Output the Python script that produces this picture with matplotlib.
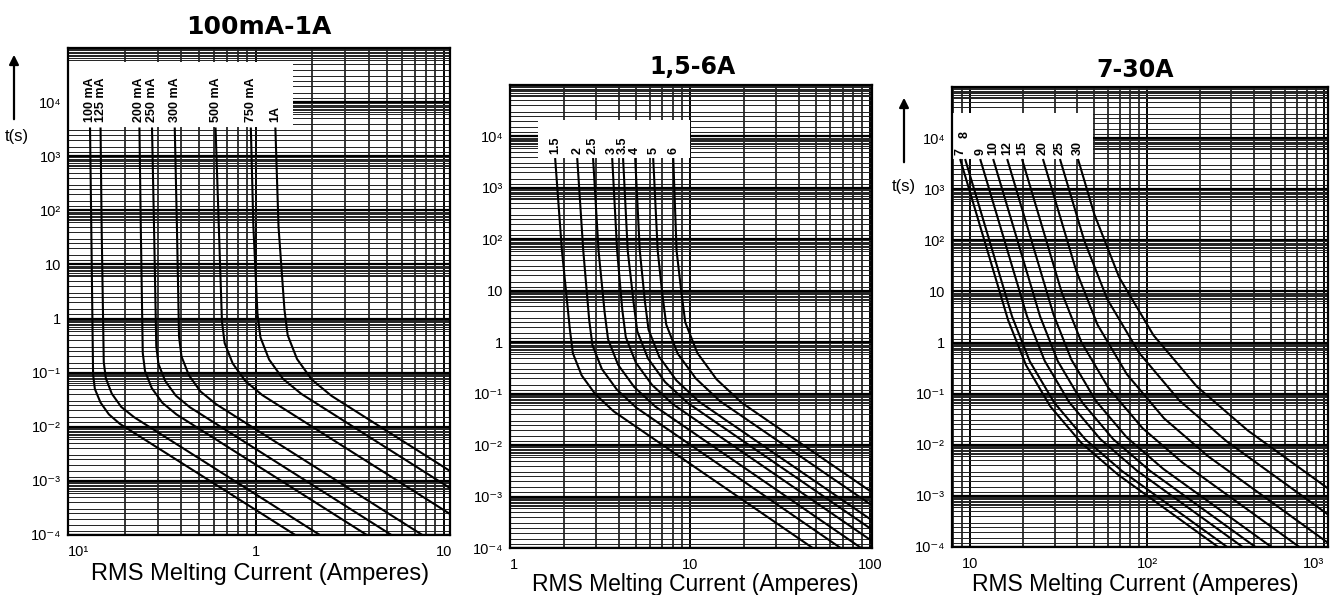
import matplotlib
matplotlib.use('Agg')
import matplotlib.pyplot as plt
from matplotlib.ticker import FixedLocator, FixedFormatter, LogLocator, NullFormatter
from matplotlib.patches import Rectangle

plt.rcParams['font.family'] = ['Liberation Sans', 'DejaVu Sans']

# ---------------- text / ticks ----------------
TITLES = ['100mA-1A', '1,5-6A', '7-30A']
XLABEL = 'RMS Melting Current (Amperes)'
YLABEL = 't(s)'

Y_TICKS = [1e-4, 1e-3, 1e-2, 1e-1, 1, 10, 1e2, 1e3, 1e4]
Y_TICKLABELS = ['10⁻⁴', '10⁻³', '10⁻²', '10⁻¹', '1', '10', '10²', '10³', '10⁴']

P1_XTICKS = [0.1, 1, 10]
P1_XTICKLABELS = ['10¹', '1', '10']
P2_XTICKS = [1, 10, 100]
P2_XTICKLABELS = ['1', '10', '100']
P3_XTICKS = [10, 100, 1000]
P3_XTICKLABELS = ['10', '10²', '10³']

# ---------------- panel 1 : 100mA - 1A ----------------
P1_LABELS = ['100 mA', '125 mA', '200 mA', '250 mA', '300 mA', '500 mA', '750 mA', '1A']
I_100mA = [0.131, 0.133, 0.136, 0.139, 0.149, 0.165, 0.189, 4.62]
T_100mA = [3400, 50, 0.092, 0.050, 0.028, 0.017, 0.0113, 1e-5]
I_125mA = [0.149, 0.151, 0.155, 0.159, 0.171, 0.192, 0.225, 6.24]
T_125mA = [3400, 50, 0.157, 0.079, 0.041, 0.0233, 0.015, 1e-5]
I_200mA = [0.240, 0.244, 0.250, 0.257, 0.279, 0.318, 0.378, 11.1]
T_200mA = [3400, 50, 0.231, 0.107, 0.052, 0.0277, 0.0169, 1e-5]
I_250mA = [0.280, 0.287, 0.295, 0.303, 0.329, 0.375, 0.445, 15.0]
T_250mA = [3400, 50, 0.313, 0.145, 0.0705, 0.0376, 0.023, 1e-5]
I_300mA = [0.37, 0.38, 0.39, 0.402, 0.44, 0.507, 0.614, 21.9]
T_300mA = [3400, 50, 0.463, 0.199, 0.0897, 0.045, 0.0262, 1e-5]
I_500mA = [0.61, 0.635, 0.66, 0.682, 0.753, 0.88, 1.082, 46.2]
T_500mA = [3400, 50, 0.887, 0.352, 0.148, 0.0697, 0.0385, 1e-5]
I_750mA = [0.94, 0.97, 1.02, 1.058, 1.176, 1.392, 1.743, 76.2]
T_750mA = [3400, 50, 1.216, 0.448, 0.175, 0.0773, 0.0407, 1e-5]
I_1A = [1.27, 1.32, 1.42, 1.477, 1.656, 1.985, 2.529, 106]
T_1A = [3400, 50, 1.445, 0.493, 0.179, 0.0743, 0.0372, 1e-5]

# ---------------- panel 2 : 1,5 - 6A ----------------
P2_LABELS = ['1.5', '2', '2.5', '3', '3.5', '4', '5', '6']
I_1A5 = [1.78, 1.94, 2.15, 2.233, 2.497, 2.982, 3.771, 124.5]
T_1A5 = [3800, 62, 1.74, 0.611, 0.227, 0.0965, 0.045, 1e-5]
I_2A = [2.36, 2.55, 2.75, 2.866, 3.231, 3.913, 5.038, 177.8]
T_2A = [3800, 60, 2.72, 0.881, 0.303, 0.1206, 0.053, 1e-5]
I_2A5 = [2.89, 3.1, 3.35, 3.501, 3.981, 4.888, 6.409, 231]
T_2A5 = [3800, 60, 3.81, 1.137, 0.3626, 0.1349, 0.056, 1e-5]
I_3A = [3.69, 3.93, 4.2, 4.39, 4.992, 6.128, 8.035, 302]
T_3A = [3800, 60, 4.21, 1.256, 0.401, 0.149, 0.062, 1e-5]
I_3A5 = [4.24, 4.5, 4.85, 5.084, 5.831, 7.257, 9.69, 373]
T_3A5 = [3800, 60, 5.93, 1.632, 0.4824, 0.168, 0.066, 1e-5]
I_4A = [4.95, 5.25, 5.6, 5.87, 6.733, 8.379, 11.19, 444.5]
T_4A = [3800, 60, 6.37, 1.755, 0.519, 0.1807, 0.07, 1e-5]
I_5A = [6.23, 6.6, 7.0, 7.36, 8.513, 10.74, 14.6, 586.7]
T_5A = [3800, 60, 8.69, 2.207, 0.6046, 0.1972, 0.072, 1e-5]
I_6A = [8.05, 8.4, 8.9, 9.384, 10.95, 14.01, 19.38, 746.8]
T_6A = [3800, 60, 10.4, 2.44, 0.62, 0.1894, 0.066, 1e-5]

# ---------------- panel 3 : 7 - 30A ----------------
P3_LABELS = ['7', '8', '9', '10', '12', '15', '20', '25', '30']
I_7A = [8.78, 16.4, 20.7, 28.4, 42.6, 68.4, 634]
T_7A = [3900, 2.74, 0.362, 0.0563, 0.01078, 0.002616, 1e-5]
I_8A = [9.37, 17.26, 21.74, 29.9, 44.8, 71.9, 713]
T_8A = [3900, 3.24, 0.4283, 0.0666, 0.01276, 0.003096, 1e-5]
I_9A = [11.4, 20.96, 26.42, 36.34, 54.4, 87.4, 872]
T_9A = [3900, 3.29, 0.4348, 0.0677, 0.01295, 0.003144, 1e-5]
I_10A = [13.5, 24.84, 31.3, 43.05, 64.4, 103.5, 1030]
T_10A = [3900, 3.27, 0.432, 0.0672, 0.01287, 0.003124, 1e-5]
I_12A = [16.2, 29.6, 37.3, 51.3, 76.8, 123.4, 1268]
T_12A = [3900, 3.54, 0.468, 0.0729, 0.01395, 0.003384, 1e-5]
I_15A = [19.65, 33.0, 42.6, 60.4, 94.2, 158.8, 1823]
T_15A = [3900, 9.38, 1.012, 0.1307, 0.0212, 0.004467, 1e-5]
I_20A = [25.8, 39.8, 52.5, 76.9, 124.8, 220.5, 2853]
T_20A = [3900, 25.3, 2.232, 0.2394, 0.0329, 0.006021, 1e-5]
I_25A = [32.2, 44.2, 59.6, 90.2, 152.4, 282.4, 4755]
T_25A = [3900, 98.1, 7.06, 0.6287, 0.0733, 0.01163, 1e-5]
I_30A = [40.7, 50.4, 69.6, 108.7, 191.3, 371.6, 7608]
T_30A = [3900, 320.5, 18.85, 1.393, 0.1377, 0.01896, 1e-5]

P1_CURVES = [(I_100mA, T_100mA), (I_125mA, T_125mA), (I_200mA, T_200mA), (I_250mA, T_250mA),
             (I_300mA, T_300mA), (I_500mA, T_500mA), (I_750mA, T_750mA), (I_1A, T_1A)]
P2_CURVES = [(I_1A5, T_1A5), (I_2A, T_2A), (I_2A5, T_2A5), (I_3A, T_3A),
             (I_3A5, T_3A5), (I_4A, T_4A), (I_5A, T_5A), (I_6A, T_6A)]
P3_CURVES = [(I_7A, T_7A), (I_8A, T_8A), (I_9A, T_9A), (I_10A, T_10A), (I_12A, T_12A),
             (I_15A, T_15A), (I_20A, T_20A), (I_25A, T_25A), (I_30A, T_30A)]

# ---------------- layout (pixels) ----------------
W, H = 1331, 595
fig = plt.figure(figsize=(W / 100, H / 100), dpi=100)
fig.patch.set_facecolor('white')


def add_axes_px(left, right, top, bottom):
    return fig.add_axes([left / W, 1 - bottom / H, (right - left) / W, (bottom - top) / H])


def graph_paper(ax, xlim, xticks, xticklabels):
    ax.set_xscale('log')
    ax.set_yscale('log')
    ax.set_xlim(*xlim)
    ax.set_ylim(1e-4, 1e5)
    ax.xaxis.set_major_locator(FixedLocator(xticks))
    ax.xaxis.set_major_formatter(FixedFormatter(xticklabels))
    ax.yaxis.set_major_locator(FixedLocator(Y_TICKS))
    ax.yaxis.set_major_formatter(FixedFormatter(Y_TICKLABELS))
    ax.xaxis.set_minor_locator(LogLocator(base=10, subs=[2, 3, 4, 5, 6, 7, 8, 9], numticks=200))
    ax.yaxis.set_minor_locator(LogLocator(base=10, subs=[1.2, 1.5, 2, 2.5, 3, 4, 5, 6, 6.5, 7, 7.5,
                                                          8, 8.5, 9, 9.5], numticks=400))
    ax.xaxis.set_minor_formatter(NullFormatter())
    ax.yaxis.set_minor_formatter(NullFormatter())
    ax.set_axisbelow(True)
    ax.grid(which='major', axis='x', color='black', lw=1.4)
    ax.grid(which='major', axis='y', color='black', lw=1.6)
    ax.grid(which='minor', axis='x', color='black', lw=1.1)
    ax.grid(which='minor', axis='y', color='#222222', lw=0.7)
    ax.tick_params(which='both', length=0, labelsize=10.5)
    ax.tick_params(axis='x', pad=7)
    ax.tick_params(axis='y', pad=5)
    for s in ax.spines.values():
        s.set_linewidth(1.6)
        s.set_color('black')


def draw_panel(ax, curves, labels, box, label_offsets, label_gap):
    # white label box
    (bx0, bx1), (by0, by1) = box
    ax.add_patch(Rectangle((bx0, by0), bx1 - bx0, by1 - by0, facecolor='white',
                           edgecolor='none', zorder=1.5))
    for (I, T), lab, dy in zip(curves, labels, label_offsets):
        ax.plot(I, T, color='black', lw=1.5, solid_capstyle='butt', zorder=3)
        ax.annotate(lab, xy=(I[0], T[0]), xytext=(0, label_gap + dy), textcoords='offset points',
                    rotation=90, ha='center', va='bottom', fontsize=9, fontweight='bold', zorder=4)


# panel 1
ax1 = add_axes_px(68, 450, 48, 535)
graph_paper(ax1, (0.1, 10.8), P1_XTICKS, P1_XTICKLABELS)
draw_panel(ax1, P1_CURVES, P1_LABELS, ((0.1, 1.57), (3450, 5.5e4)), [0] * 8, 4)
ax1.get_xticklabels()[0].set_horizontalalignment('left')

# panel 2
ax2 = add_axes_px(510, 872, 85, 548)
graph_paper(ax2, (1, 102), P2_XTICKS, P2_XTICKLABELS)
draw_panel(ax2, P2_CURVES, P2_LABELS, ((1.43, 10), (3850, 2.1e4)), [0] * 8, 3)
ax2.get_xticklabels()[0].set_horizontalalignment('left')

# panel 3
ax3 = add_axes_px(952, 1328, 87, 547)
graph_paper(ax3, (7.9, 1054), P3_XTICKS, P3_XTICKLABELS)
draw_panel(ax3, P3_CURVES, P3_LABELS, ((7.9, 49.5), (3950, 3.1e4)), [0, 12, 0, 0, 0, 0, 0, 0, 0], 3)
ax3.get_xticklabels()[-1].set_horizontalalignment('right')

# titles and axis labels (figure pixel positions)
def fig_text(x, y, s, **kw):
    fig.text(x / W, 1 - y / H, s, **kw)

fig_text(259, 27, TITLES[0], ha='center', va='center', fontsize=18, fontweight='bold',
         family=['DejaVu Sans'])
fig_text(693, 67, TITLES[1], ha='center', va='center', fontsize=17, fontweight='bold',
         family=['DejaVu Sans'])
fig_text(1135, 70, TITLES[2], ha='center', va='center', fontsize=17, fontweight='bold',
         family=['DejaVu Sans'])

fig_text(260, 574, XLABEL, ha='center', va='center', fontsize=17)
fig_text(695, 584, XLABEL, ha='center', va='center', fontsize=16.5)
fig_text(1135, 584, XLABEL, ha='center', va='center', fontsize=16.5)

fig_text(17, 136, YLABEL, ha='center', va='center', fontsize=12)
fig_text(904, 186, YLABEL, ha='center', va='center', fontsize=12)

for (x, y0, y1) in [(14, 122, 52), (904, 165, 95)]:
    fig.add_artist(matplotlib.patches.FancyArrowPatch(
        (x / W, 1 - y0 / H), (x / W, 1 - y1 / H), transform=fig.transFigure,
        arrowstyle='-|>', mutation_scale=14, lw=1.6, color='black'))

fig.savefig('out.png', dpi=100)
